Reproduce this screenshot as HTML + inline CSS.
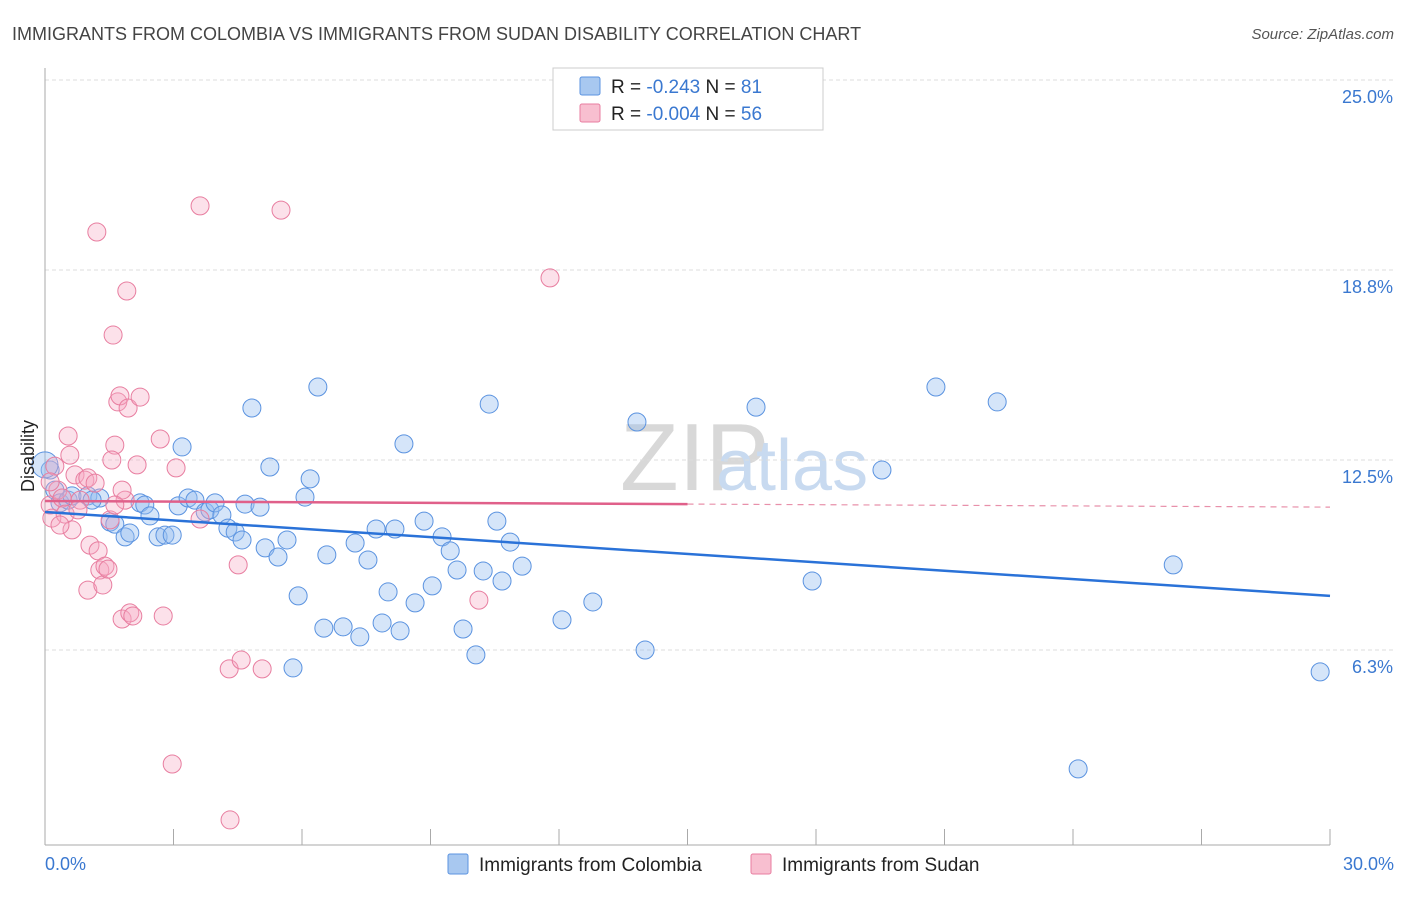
<!DOCTYPE html>
<html><head><meta charset="utf-8"><style>
body{margin:0;background:#fff;font-family:"Liberation Sans",sans-serif;}
svg text{font-family:"Liberation Sans",sans-serif;}
</style></head><body>
<svg id="c" width="1406" height="892" xmlns="http://www.w3.org/2000/svg">
<text x="12" y="40" font-size="18" fill="#444">IMMIGRANTS FROM COLOMBIA VS IMMIGRANTS FROM SUDAN DISABILITY CORRELATION CHART</text>
<text x="1394" y="39" font-size="15" fill="#555" font-style="italic" text-anchor="end">Source: ZipAtlas.com</text>
<text x="620" y="490" font-size="96" fill="#d8d8d8" font-family="Liberation Serif">ZIP</text>
<text x="716" y="490" font-size="72" fill="#c8daf0">atlas</text>
<g id="grid"></g><g id="axes"></g><g id="pts"></g><g id="lines"></g>
<text transform="translate(34,456) rotate(-90)" font-size="18" fill="#222" text-anchor="middle">Disability</text>
<text x="45" y="870" font-size="18" fill="#3a78d0">0.0%</text>
<text x="1394" y="870" font-size="18" fill="#3a78d0" text-anchor="end">30.0%</text>
<g>
<rect x="553" y="68" width="270" height="62" fill="#fff" stroke="#ccc"/>
<rect x="580" y="77" width="20" height="18" fill="#a8c8f0" stroke="#5b93e0" rx="2"/>
<rect x="580" y="104" width="20" height="18" fill="#f8bfd0" stroke="#e87ea0" rx="2"/>
<text x="611" y="93" font-size="19" fill="#222">R = <tspan fill="#3a78d0">-0.243</tspan>   N = <tspan fill="#3a78d0">81</tspan></text>
<text x="611" y="120" font-size="19" fill="#222">R = <tspan fill="#3a78d0">-0.004</tspan>   N = <tspan fill="#3a78d0">56</tspan></text>
</g>
<g>
<rect x="448" y="854" width="20" height="20" fill="#a8c8f0" stroke="#5b93e0" rx="2"/>
<text x="479" y="871" font-size="19" fill="#222">Immigrants from Colombia</text>
<rect x="751" y="854" width="20" height="20" fill="#f8bfd0" stroke="#e87ea0" rx="2"/>
<text x="782" y="871" font-size="19" fill="#222">Immigrants from Sudan</text>
</g>
</svg>
<script>
const yTicks=[6.25,12.5,18.75,25];
const yTickLabels=["6.3%","12.5%","18.8%","25.0%"];
const xTicks=[0,3,6,9,12,15,18,21,24,27,30];
const colX=[0.12,0.23,0.35,0.54,0.63,1.00,1.28,1.10,1.52,1.63,1.87,1.98,2.22,2.33,2.45,2.64,2.80,2.97,3.11,3.20,3.34,3.50,3.74,3.85,3.97,4.13,4.27,4.44,4.60,4.67,4.83,5.02,5.14,5.25,5.44,5.65,5.79,5.91,6.07,6.19,6.37,6.51,6.58,6.96,7.24,7.35,7.54,7.73,7.87,8.01,8.17,8.29,8.38,8.64,8.85,9.04,9.27,9.46,9.62,9.76,10.06,10.23,10.37,10.55,10.67,10.86,11.14,12.07,12.79,13.82,14.01,16.60,17.91,19.54,20.80,22.23,24.12,26.34,29.77,0];
const colY=[12.17,11.51,11.09,11.18,11.32,11.32,11.25,11.18,10.46,10.39,9.97,10.10,11.09,11.02,10.66,9.97,10.03,10.03,10.99,12.93,11.25,11.18,10.79,10.86,11.09,10.69,10.26,10.13,9.87,11.05,14.21,10.95,9.61,12.27,9.31,9.87,5.66,8.03,11.28,11.88,14.90,6.97,9.38,7.01,9.77,6.68,9.21,10.23,7.14,8.16,10.23,6.88,13.03,7.80,10.49,8.36,9.97,9.51,8.88,6.94,6.09,8.85,14.34,10.49,8.52,9.80,9.01,7.24,7.83,13.75,6.25,14.24,8.52,12.17,14.90,14.41,2.34,9.05,5.53,12.34];
const sudX=[0.12,0.16,0.23,0.30,0.40,0.47,0.54,0.58,0.63,0.70,0.82,0.93,1.00,1.05,1.17,1.00,1.21,1.24,1.28,1.35,1.40,1.47,1.52,1.59,1.63,1.70,1.75,1.80,1.87,1.91,1.94,1.98,2.05,2.15,2.22,2.69,2.76,2.97,3.06,3.62,3.62,4.30,4.32,4.51,4.58,5.07,5.51,10.13,11.79,1.80,1.56,0.35,0.77,0.12,1.63];
const sudY=[11.02,10.59,12.30,11.51,11.25,10.72,13.29,12.66,10.20,12.01,11.18,11.84,11.91,9.70,11.74,8.22,20.0,9.51,8.88,8.39,9.01,8.91,10.53,16.61,12.99,14.41,14.61,7.27,11.18,18.06,14.21,7.47,7.37,12.34,14.57,13.19,7.37,2.50,12.24,20.86,10.56,5.63,0.66,9.05,5.92,5.63,20.72,7.89,18.49,11.51,12.50,10.36,10.86,11.78,11.02];
const colTrend=[10.79,8.03];
const sudTrend=[11.15,10.95];
const X0=45,X1=1330,Y0=840,PY=30.4;
const sx=v=>X0+(v/30)*(X1-X0);
const sy=v=>Y0-v*PY;
const NS="http://www.w3.org/2000/svg";
function mk(t,a,p){const e=document.createElementNS(NS,t);for(const k in a)e.setAttribute(k,a[k]);p.appendChild(e);return e;}
const grid=document.getElementById('grid'),axes=document.getElementById('axes'),pts=document.getElementById('pts'),lines=document.getElementById('lines');
yTicks.forEach((t,i)=>{
 const l=mk('line',{x1:X0,x2:1393,y1:sy(t),y2:sy(t),stroke:'#ddd','stroke-dasharray':'4,3'},grid);
 
 
 const tx=mk('text',{x:1393,y:sy(t)+23,'font-size':18,fill:'#3a78d0','text-anchor':'end'},grid);
 tx.textContent=yTickLabels[i];
 
 
});
const ya=mk('line',{x1:X0,x2:X0,y1:68,y2:845,stroke:'#aaa'},axes);


const xa=mk('line',{x1:X0,x2:X1,y1:845,y2:845,stroke:'#aaa'},axes);


xTicks.forEach(t=>{
 const l=mk('line',{x1:sx(t),x2:sx(t),y1:829,y2:845,stroke:'#aaa'},axes);
 
 
});
colX.forEach((x,i)=>{
 const c=mk('circle',{cx:sx(x),cy:sy(colY[i]),r:i===colX.length-1?13:9,fill:'rgba(150,190,240,0.4)',stroke:'#5b93e0','stroke-width':1},pts);
 
 
});
sudX.forEach((x,i)=>{
 const c=mk('circle',{cx:sx(x),cy:sy(sudY[i]),r:9,fill:'rgba(245,170,195,0.35)',stroke:'#e87ea0','stroke-width':1},pts);
 
 
});
const bl=mk('line',{x1:sx(0),x2:sx(30),y1:sy(colTrend[0]),y2:sy(colTrend[1]),stroke:'#2a72d8','stroke-width':2.5},lines);


const mid=15, pm=sudTrend[0]+(sudTrend[1]-sudTrend[0])*mid/30;
const pl=mk('line',{x1:sx(0),x2:sx(mid),y1:sy(sudTrend[0]),y2:sy(pm),stroke:'#e0608a','stroke-width':2.5},lines);


const pd=mk('line',{x1:sx(mid),x2:sx(30),y1:sy(pm),y2:sy(sudTrend[1]),stroke:'#e890aa','stroke-width':1.2,'stroke-dasharray':'6,5'},lines);


</script>
</body></html>
